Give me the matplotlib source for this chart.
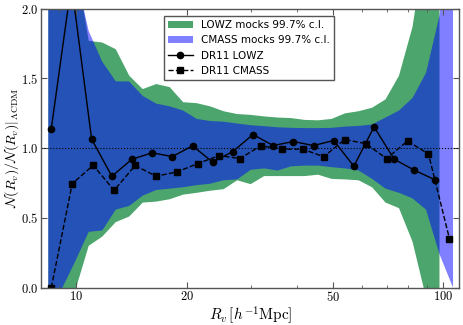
import numpy as np
import matplotlib
matplotlib.use("Agg")
from matplotlib import pyplot as plt
from matplotlib import ticker

plt.rcParams['mathtext.fontset'] = 'cm'

# DR11 data points
r_lowz = [8.55, 9.70, 11.01, 12.50, 14.18, 16.09, 18.26, 20.73, 23.52, 26.69,
          30.29, 34.38, 39.01, 44.28, 50.24, 57.02, 64.71, 73.44, 83.34, 94.58]
n_lowz = [1.141, 2.18, 1.065, 0.799, 0.921, 0.967, 0.940, 1.017, 0.900, 0.976,
          1.098, 1.019, 1.048, 1.019, 1.055, 0.871, 1.153, 0.921, 0.842, 0.775]

r_cmass = [8.55, 9.75, 11.12, 12.68, 14.46, 16.49, 18.81, 21.45, 24.46, 27.90,
           31.81, 36.28, 41.38, 47.19, 53.82, 61.38, 70.00, 79.83, 91.04, 103.82]
n_cmass = [0.0, 0.746, 0.877, 0.698, 0.876, 0.799, 0.830, 0.890, 0.947, 0.926,
           1.017, 0.993, 0.993, 0.939, 1.062, 1.033, 0.926, 1.051, 0.959, 0.352]

# mock 99.7% c.l. bands
r_band = [8.39, 9.13, 9.94, 10.81, 11.77, 12.81, 13.94, 15.17, 16.51, 17.97,
          19.55, 21.28, 23.16, 25.20, 27.43, 29.85, 32.48, 35.35, 38.47, 41.87,
          45.56, 49.58, 53.96, 58.72, 63.91, 69.55, 75.68, 82.37, 89.64, 97.55,
          106.2]

lowz_hi = [2.6, 2.45, 2.35, 1.77, 1.758, 1.71, 1.52, 1.424, 1.46, 1.438,
           1.33, 1.323, 1.30, 1.265, 1.245, 1.239, 1.228, 1.22, 1.216, 1.203,
           1.20, 1.21, 1.25, 1.265, 1.29, 1.35, 1.52, 1.87, 2.5, 3.2]
lowz_lo = [-0.6, -0.3, -0.02, 0.30, 0.366, 0.47, 0.51, 0.61, 0.617, 0.634,
           0.667, 0.68, 0.695, 0.706, 0.77, 0.742, 0.80, 0.80, 0.80, 0.80,
           0.81, 0.78, 0.776, 0.77, 0.72, 0.61, 0.57, 0.33, -0.07, -0.5]

cmass_hi = [2.6, 2.45, 2.26, 1.84, 1.62, 1.48, 1.478, 1.375, 1.32, 1.30,
            1.27, 1.21, 1.195, 1.19, 1.177, 1.165, 1.158, 1.15, 1.146, 1.144,
            1.144, 1.146, 1.155, 1.16, 1.17, 1.22, 1.27, 1.36, 1.54, 1.95,
            2.8]
cmass_lo = [-0.8, -0.01, 0.19, 0.40, 0.41, 0.56, 0.586, 0.66, 0.70, 0.71,
            0.72, 0.735, 0.745, 0.77, 0.776, 0.845, 0.855, 0.84, 0.87, 0.875,
            0.875, 0.864, 0.855, 0.84, 0.78, 0.71, 0.68, 0.64, 0.56, 0.24,
            0.0]


def main():
    fig = plt.figure(figsize=(4.64, 3.25), dpi=100)
    ax = fig.add_axes([0.089, 0.115, 0.901, 0.858])

    nl = len(lowz_hi)
    ax.fill_between(r_band[:nl], lowz_lo, lowz_hi, color='#4ca56d', lw=0,
                    label='LOWZ mocks 99.7% c.l.')
    ax.fill_between(r_band, cmass_lo, cmass_hi, color='blue', alpha=0.5, lw=0,
                    label='CMASS mocks 99.7% c.l.')
    ax.plot(r_lowz, n_lowz, 'k-', marker='o', ms=4.5, lw=1, label='DR11 LOWZ')
    ax.plot(r_cmass, n_cmass, 'k--', marker='s', ms=4, lw=1, label='DR11 CMASS')
    ax.axhline(1.0, color='k', ls=':', lw=0.8)

    ax.set_xscale('log')
    ax.set_xlim(8.03, 110.5)
    ax.set_ylim(0.0, 2.0)
    ax.xaxis.set_major_locator(ticker.FixedLocator([10, 20, 50, 100]))
    ax.xaxis.set_major_formatter(ticker.FuncFormatter(lambda v, p: r'$%d$' % v))
    ax.xaxis.set_minor_locator(ticker.LogLocator(subs=np.arange(2, 10)))
    ax.xaxis.set_minor_formatter(ticker.NullFormatter())
    ax.set_yticks([0.0, 0.5, 1.0, 1.5, 2.0])
    ax.yaxis.set_major_formatter(ticker.FuncFormatter(lambda v, p: r'$%.1f$' % v))
    ax.tick_params(which='both', direction='in', top=True, right=True,
                   labelsize=9, color='#555555')
    ax.tick_params(which='major', length=4)
    ax.tick_params(which='minor', length=2)
    ax.tick_params(axis='x', pad=2)
    ax.tick_params(axis='y', pad=2)
    for s in ax.spines.values():
        s.set_color('#555555')
        s.set_linewidth(1.0)

    ax.set_xlabel(r'$R_v\,[h^{-1}\mathrm{Mpc}]$', fontsize=11, labelpad=0)
    ax.set_ylabel(r'$\mathcal{N}(R_v)/\mathcal{N}(R_v)|_{\Lambda\mathrm{CDM}}$',
                  fontsize=10, labelpad=0)

    leg = ax.legend(loc='upper right', bbox_to_anchor=(0.708, 0.985), fontsize=7.5,
                    fancybox=False, framealpha=1, borderaxespad=0.3,
                    handlelength=2.4)
    leg.get_frame().set_edgecolor('#555555')

    fig.savefig("out.png", dpi=100)


if __name__ == "__main__":
    main()
